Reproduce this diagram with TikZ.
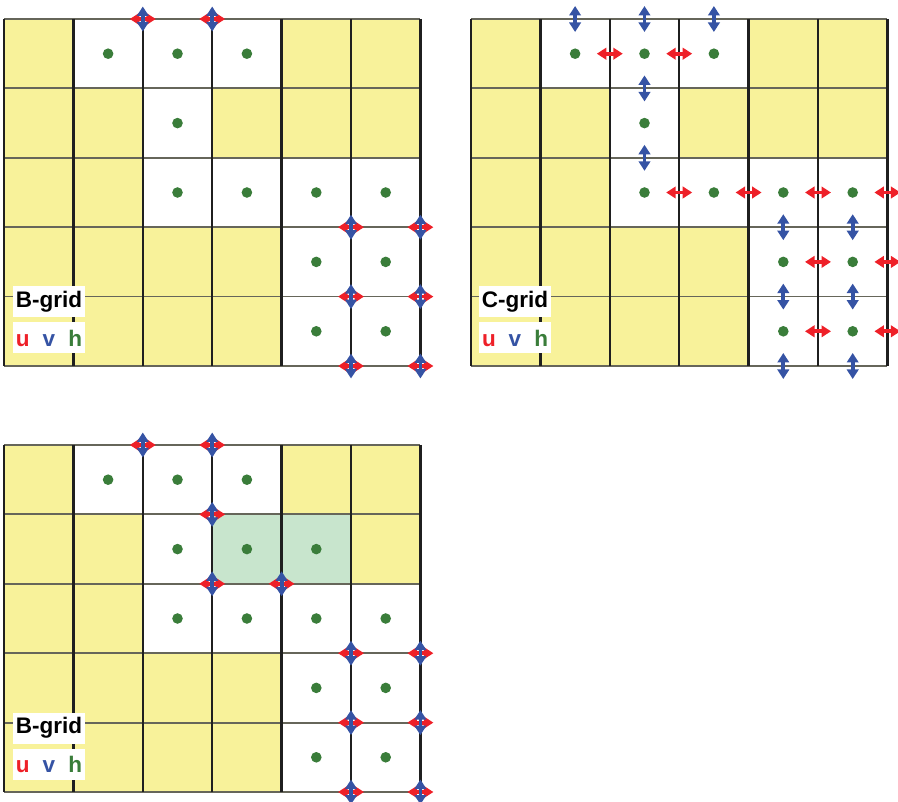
\documentclass[tikz,border=0pt]{standalone}
\usepackage{fontspec}
\setmainfont{Liberation Sans}
\usetikzlibrary{arrows.meta}
\definecolor{gyel}{HTML}{F8F29A}
\definecolor{gdot}{HTML}{3A7D3A}
\definecolor{gred}{HTML}{EE2028}
\definecolor{gblue}{HTML}{3553A4}
\definecolor{gmint}{HTML}{C8E5CD}
\definecolor{hlcol}{HTML}{66665A}
\def\cs{69.4}
\tikzset{
 yel/.style={fill=gyel},
 mint/.style={fill=gmint},
 hdot/.style={fill=gdot},
 uarr/.style={gred, line width=3.8pt, {Triangle[length=9.5pt 0,width=11.5pt 0]}-{Triangle[length=9.5pt 0,width=11.5pt 0]}},
 varr/.style={gblue, line width=3.8pt, {Triangle[length=9.5pt 0,width=11.5pt 0]}-{Triangle[length=9.5pt 0,width=11.5pt 0]}},
 lab/.style={fill=white, inner sep=0pt, minimum width=72pt, minimum height=31pt, font=\bfseries\fontsize{22.5}{24}\selectfont},
 vl/.style={black!88, line width=2.4pt},
 hl/.style={hlcol, line width=1.8pt}
}
\newcommand\mygrid{%
 \foreach \i/\j in {0/0,4/0,5/0,0/1,1/1,3/1,4/1,5/1,0/2,1/2,0/3,1/3,2/3,3/3,0/4,1/4,2/4,3/4}
   \fill[yel] (\i*\cs,\j*\cs) rectangle ++(\cs,\cs);
}
\newcommand\mylines{%
 \foreach \j in {0,...,5} \draw[hl] (0,\j*\cs) -- (6*\cs,\j*\cs);
 \foreach \i in {0,...,6} \draw[vl] (\i*\cs,0) -- (\i*\cs,5*\cs);
 \foreach \i/\j in {1/0,2/0,3/0,2/1,2/2,3/2,4/2,5/2,4/3,5/3,4/4,5/4}
   \fill[hdot] (\i*\cs+0.5*\cs,\j*\cs+0.5*\cs) circle (5.3);
}
\newcommand\bcorner[2]{%
 \draw[uarr] (#1*\cs-13,#2*\cs) -- (#1*\cs+13,#2*\cs);
 \draw[varr] (#1*\cs,#2*\cs-12.5) -- (#1*\cs,#2*\cs+12.5);
}
\newcommand\cu[2]{\draw[uarr] (#1*\cs-13,#2*\cs) -- (#1*\cs+13,#2*\cs);}
\newcommand\cv[2]{\draw[varr] (#1*\cs,#2*\cs-13) -- (#1*\cs,#2*\cs+13);}
\newcommand\uvh{{\color{gred}u}\hspace{13pt}{\color{gblue}v}\hspace{13pt}{\color{gdot}h}}
\begin{document}
\begin{tikzpicture}[x=1pt,y=-1pt]
\useasboundingbox (0,0) rectangle (898,802);
% grid 1: B-grid
\begin{scope}[shift={(4,19)}]
 \mygrid
 \mylines
 \foreach \a/\b in {2/0,3/0,5/3,6/3,5/4,6/4,5/5,6/5} {\bcorner{\a}{\b}}
 \node[lab] (b1) at (45,283) {B-grid};
 \node[lab] (k1) at (45,319) {\uvh};
\end{scope}
% grid 2: C-grid
\begin{scope}[shift={(471,19)}]
 \mygrid
 \mylines
 \foreach \a/\b in {1.5/0,2.5/0,3.5/0,2.5/1,2.5/2,4.5/3,5.5/3,4.5/4,5.5/4,4.5/5,5.5/5} {\cv{\a}{\b}}
 \foreach \a/\b in {2/0.5,3/0.5,3/2.5,4/2.5,5/2.5,6/2.5,5/3.5,6/3.5,5/4.5,6/4.5} {\cu{\a}{\b}}
 \node[lab] (b2) at (44,283) {C-grid};
 \node[lab] (k2) at (44,319) {\uvh};
\end{scope}
% grid 3: B-grid with highlighted cells
\begin{scope}[shift={(4,445)}]
 \mygrid
 \fill[mint] (3*\cs,\cs) rectangle ++(2*\cs,\cs);
 \mylines
 \fill[hdot] (3.5*\cs,1.5*\cs) circle (5.3);
 \fill[hdot] (4.5*\cs,1.5*\cs) circle (5.3);
 \foreach \a/\b in {2/0,3/0,3/1,3/2,4/2,5/3,6/3,5/4,6/4,5/5,6/5} {\bcorner{\a}{\b}}
 \node[lab] (b3) at (45,283) {B-grid};
 \node[lab] (k3) at (45,319) {\uvh};
\end{scope}
\end{tikzpicture}
\end{document}
